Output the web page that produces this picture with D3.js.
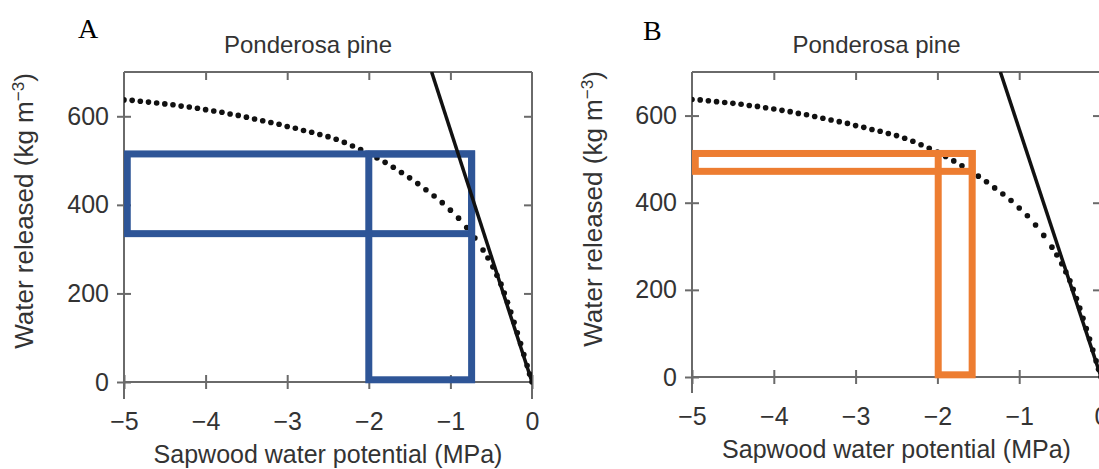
<!DOCTYPE html>
<html><head><meta charset="utf-8">
<script src="https://cdn.jsdelivr.net/npm/d3@7"></script>
<style>
body{margin:0;background:#fff}
svg{display:block;background:#fff}
text{font-family:"Liberation Sans",Arial,Helvetica,sans-serif}
</style>
</head><body>
<svg id="chart" width="1099" height="469"></svg>
<script>
// ---------- data ----------
const psiValues = [-5.0,-4.9,-4.8,-4.7,-4.6,-4.5,-4.4,-4.3,-4.2,-4.1,
  -4.0,-3.9,-3.8,-3.7,-3.6,-3.5,-3.4,-3.3,-3.2,-3.1,
  -3.0,-2.9,-2.8,-2.7,-2.6,-2.5,-2.4,-2.3,-2.2,-2.1,
  -2.0,-1.9,-1.8,-1.7,-1.6,-1.5,-1.4,-1.3,-1.2,-1.1,
  -1.0,-0.9,-0.8,-0.7,-0.6,-0.54,-0.48,-0.43,-0.38,-0.34,
  -0.30,-0.26,-0.22,-0.18,-0.14,-0.10,-0.06,-0.03,0.0];
const releasedValues = [637,636,634,632,630,628,626,623,621,618,
  615,612,609,605,602,598,594,590,586,582,
  577,573,568,564,559,554,548,541,533,525,
  516,506,496,485,473,461,448,434,420,405,
  388,370,349,325,298,280,260,241,221,201,
  180,158,135,111,87,62,37,18,0];
const linePsi = [-1.23, 0];
const lineReleased = [700, 0];

const xTickValues = [-5,-4,-3,-2,-1,0];
const yTickValues = [0,200,400,600];
const topTickValues = [-4,-3,-2,-1];
const rightTickValues = [200,400,600];

const panelLetters = ["A","B"];
const panelTitles = ["Ponderosa pine","Ponderosa pine"];
const xAxisTitle = "Sapwood water potential (MPa)";
const yAxisTitle = "Water released (kg m";
const yAxisSup = "\u22123";

// highlight boxes: [psi left, psi right, released low, released high]
const boxesA = [[-4.96,-0.74,335,515],[-2.0,-0.74,5,515]];
const boxesB = [[-4.96,-1.575,472,513],[-1.99,-1.575,5,513]];
const boxColors = ["#2E5597","#ED7D31"];

// ---------- layout ----------
const panels = [
  {left:124,right:532,top:72,zero:382,bottom:399,letterX:78,letterY:38,ylabX:33,ylabY:211,boxes:boxesA,color:boxColors[0]},
  {left:692,right:1101,top:72,zero:377,bottom:393,letterX:643,letterY:40,ylabX:602,ylabY:209,boxes:boxesB,color:boxColors[1]}
];
const axisColor = "#6a6a6a";
const textColor = "#333";
const svg = d3.select("#chart");
svg.append("rect").attr("width",1099).attr("height",469).attr("fill","#fff");

const points = psiValues.map((p,i)=>({psi:p, w:releasedValues[i]}));
const linePts = linePsi.map((p,i)=>({psi:p, w:lineReleased[i]}));
const intFmt = d3.format("d");

panels.forEach((cfg, idx) => {
  const x = d3.scaleLinear().domain([-5,0]).range([cfg.left,cfg.right]);
  const y = d3.scaleLinear().domain([0,700]).range([cfg.zero,cfg.top]);
  const yLow = y.invert(cfg.bottom);
  const g = svg.append("g");

  const clipId = "clip"+idx;
  svg.append("clipPath").attr("id",clipId).append("rect")
    .attr("x",x(-5)).attr("y",y(700)).attr("width",x(0)-x(-5)).attr("height",y(yLow)-y(700));

  // frame
  const frame = g.append("g").attr("stroke",axisColor).attr("stroke-width",2).attr("fill","none");
  frame.append("line").attr("x1",x(-5)).attr("x2",x(-5)).attr("y1",y(700)).attr("y2",y(yLow));
  frame.append("line").attr("x1",x(0)).attr("x2",x(0)).attr("y1",y(700)).attr("y2",y(yLow));
  frame.append("line").attr("x1",x(-5)).attr("x2",x(0)).attr("y1",y(700)).attr("y2",y(700));
  frame.append("line").attr("x1",x(-5)).attr("x2",x(0)).attr("y1",y(0)).attr("y2",y(0));

  // left axis
  const ax = g.append("g").attr("transform",`translate(${x(-5)},0)`)
    .call(d3.axisLeft(y).tickValues(yTickValues).tickFormat(intFmt).tickSize(7).tickPadding(8));
  ax.select(".domain").remove();
  ax.selectAll(".tick line").attr("x1",7).attr("stroke",axisColor).attr("stroke-width",2);
  ax.selectAll("text").attr("font-size",25).attr("fill",textColor)
    .style("font-family",'"Liberation Sans",Arial,sans-serif');

  // bottom axis
  const bx = g.append("g").attr("transform",`translate(0,${y(0)})`)
    .call(d3.axisBottom(x).tickValues(xTickValues).tickFormat(intFmt).tickSize(7));
  bx.select(".domain").remove();
  bx.selectAll(".tick line").attr("y1",-7).attr("stroke",axisColor).attr("stroke-width",2);
  bx.selectAll("text").attr("y",48).attr("dy",0).attr("font-size",25).attr("fill",textColor)
    .style("font-family",'"Liberation Sans",Arial,sans-serif');

  // top inner ticks
  const tx = g.append("g").attr("transform",`translate(0,${y(700)})`)
    .call(d3.axisTop(x).tickValues(topTickValues).tickSize(-8).tickFormat(""));
  tx.select(".domain").remove();
  tx.selectAll(".tick line").attr("stroke",axisColor).attr("stroke-width",2);

  // right inner ticks
  const rx = g.append("g").attr("transform",`translate(${x(0)},0)`)
    .call(d3.axisRight(y).tickValues(rightTickValues).tickSize(-8).tickFormat(""));
  rx.select(".domain").remove();
  rx.selectAll(".tick line").attr("stroke",axisColor).attr("stroke-width",2);

  const plot = g.append("g").attr("clip-path",`url(#${clipId})`);

  // dotted curve
  plot.selectAll("circle.pt").data(points).join("circle").attr("class","pt")
    .attr("cx",d=>x(d.psi)).attr("cy",d=>y(d.w)).attr("r",2.8).attr("fill","#111");

  // highlight boxes
  plot.selectAll("rect.box").data(cfg.boxes).join("rect").attr("class","box")
    .attr("x",d=>x(d[0])).attr("y",d=>y(d[3]))
    .attr("width",d=>x(d[1])-x(d[0])).attr("height",d=>y(d[2])-y(d[3]))
    .attr("fill","none").attr("stroke",cfg.color).attr("stroke-width",7);

  // solid line
  plot.append("path").datum(linePts)
    .attr("d",d3.line().x(d=>x(d.psi)).y(d=>y(d.w)))
    .attr("fill","none").attr("stroke","#111").attr("stroke-width",3.5);

  // texts
  g.append("text").attr("x",cfg.letterX).attr("y",cfg.letterY)
    .attr("font-size",28).style("font-family",'"Liberation Serif","Times New Roman",serif')
    .attr("fill","#000").text(panelLetters[idx]);
  g.append("text").attr("x",(x(-5)+x(0))/2-20).attr("y",53).attr("text-anchor","middle")
    .attr("font-size",24).attr("fill",textColor).text(panelTitles[idx]);
  g.append("text").attr("x",(x(-5)+x(0))/2).attr("y",y(0)+81).attr("text-anchor","middle")
    .attr("font-size",25).attr("fill",textColor).text(xAxisTitle);
  const yl = g.append("text").attr("transform",`translate(${cfg.ylabX},${cfg.ylabY}) rotate(-90)`)
    .attr("text-anchor","middle").attr("font-size",26).attr("fill",textColor);
  yl.append("tspan").text(yAxisTitle);
  yl.append("tspan").attr("dy",-9).attr("font-size",17).text(yAxisSup);
  yl.append("tspan").attr("dy",9).text(")");
});
</script>
</body></html>
